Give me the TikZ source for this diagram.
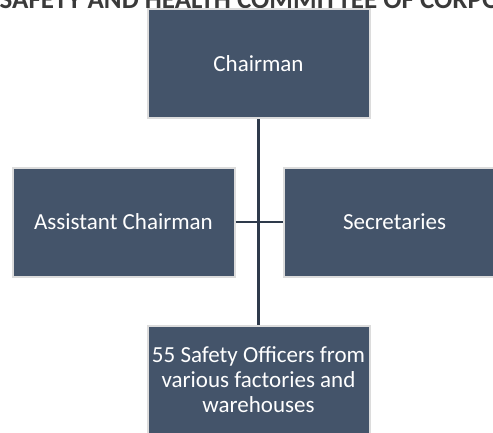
\documentclass[tikz,border=0pt]{standalone}
\usepackage{fontspec}
\setmainfont{Carlito}
\definecolor{boxfill}{HTML}{44546A}
\definecolor{boxedge}{HTML}{DCDCDC}
\definecolor{linecol}{HTML}{2E3A4B}
\definecolor{headcol}{HTML}{3A3A3A}
\begin{document}
\begin{tikzpicture}[x=1pt,y=-1pt,
  orgbox/.style={draw=boxedge, line width=2pt, fill=boxfill, text=white,
    minimum width=222pt, minimum height=109pt, inner sep=2pt,
    font=\fontsize{23}{25}\selectfont, align=center},
  link/.style={draw=linecol, line width=2.6pt}]
\useasboundingbox (0,0) rectangle (493,432);
\clip (0,0) rectangle (493,432);
\node[font=\bfseries\fontsize{27}{30}\selectfont, text=headcol, anchor=base] (head) at (250,8) {SAFETY AND HEALTH COMMITTEE OF CORPO};
\node[orgbox] (chair) at (258.5,63.5) {Chairman};
\node[orgbox] (asst) at (123.5,222) {Assistant Chairman};
\node[orgbox] (sec) at (394.5,222) {Secretaries};
\node[orgbox] (off) at (258.5,380) {55 Safety Officers from\\ various factories and\\ warehouses};
\draw[link] (chair.south) -- (off.north);
\draw[link] (asst.east) -- (sec.west);
\end{tikzpicture}
\end{document}
